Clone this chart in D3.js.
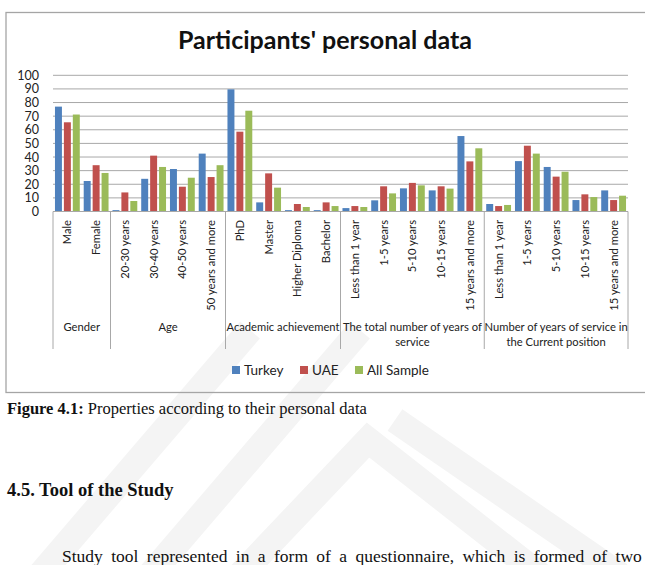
<!DOCTYPE html>
<html>
<head>
<meta charset="utf-8">
<script src="https://cdn.jsdelivr.net/npm/d3@7"></script>
<style>
  body { margin: 0; background: #fff; }
</style>
</head>
<body>
<div id="chart"></div>
<script>
// Chart data
const categories = [
    "Male", "Female",
    "20-30 years", "30-40 years", "40-50 years", "50 years and more",
    "PhD", "Master", "Higher Diploma", "Bachelor",
    "Less than 1 year", "1-5 years", "5-10 years", "10-15 years", "15 years and more",
    "Less than 1 year", "1-5 years", "5-10 years", "10-15 years", "15 years and more"
];
const groupNames = [
    ["Gender"],
    ["Age"],
    ["Academic achievement"],
    ["The total number of years of", "service"],
    ["Number of years of service in", "the Current position"]
];
const groupSizes = [2, 4, 4, 5, 5];
const seriesNames = ["Turkey", "UAE", "All Sample"];
const turkey    = [77, 22.4, 1, 24, 31.2, 42.5, 89.7, 6.7, 1, 1, 2.5, 8.2, 17, 15.5, 55.4, 5.5, 37, 32.7, 8.4, 15.5];
const uae       = [65.5, 34, 14, 41, 18.2, 25.3, 58.6, 28, 5.5, 6.7, 4, 18.5, 21, 18.5, 36.8, 4, 48.3, 25.6, 12.6, 8.4];
const allSample = [71.2, 28.3, 7.7, 32.7, 24.8, 34, 74, 17.5, 3.3, 4, 3.3, 13.3, 19.2, 16.8, 46.4, 4.8, 42.5, 29.2, 10.6, 11.6];
const yTicks = [0, 10, 20, 30, 40, 50, 60, 70, 80, 90, 100];

const seriesValues = [turkey, uae, allSample];
const colors = ["#4F81BD", "#C0504D", "#9BBB59"];
const sans = "Lato, 'Open Sans', sans-serif";
const serif = "'Liberation Serif', 'Times New Roman', serif";

const svg = d3.select("#chart")
    .append("svg")
    .attr("width", 645)
    .attr("height", 565);

// Watermark in the background (faint stripes)
const wm = svg.append("g")
    .attr("stroke", "#f4f4f4")
    .attr("stroke-width", 26)
    .attr("fill", "none");
wm.append("path").attr("d", "M40,575 L250,330");
wm.append("path").attr("d", "M150,575 L360,330");
wm.append("path").attr("d", "M240,575 L368,440 L540,575");
wm.append("path").attr("d", "M395,420 L620,575");

// Chart frame
svg.append("rect")
    .attr("x", 6)
    .attr("y", 12.5)
    .attr("width", 660)
    .attr("height", 380)
    .attr("fill", "none")
    .attr("stroke", "#a5a5a5")
    .attr("stroke-width", 1.3);

// Plot area
const plotLeft = 53, plotRight = 628, plotTop = 75.3, plotBottom = 211.5;

const x0 = d3.scaleBand()
    .domain(d3.range(categories.length))
    .range([plotLeft, plotRight]);

const x1 = d3.scaleBand()
    .domain(d3.range(seriesNames.length))
    .range([0, x0.bandwidth()])
    .paddingInner(0.22)
    .paddingOuter(0.22);

const y = d3.scaleLinear()
    .domain([0, 100])
    .range([plotBottom, plotTop]);

// Gridlines
svg.append("g")
    .selectAll("line")
    .data(yTicks)
    .join("line")
    .attr("x1", plotLeft)
    .attr("x2", plotRight)
    .attr("y1", d => y(d))
    .attr("y2", d => y(d))
    .attr("stroke", "#a8a8a8")
    .attr("stroke-width", 1);

// Y axis labels
const yAxis = svg.append("g")
    .attr("transform", `translate(${plotLeft},0)`)
    .call(d3.axisLeft(y).tickValues(yTicks).tickSize(0).tickPadding(14));
yAxis.select(".domain").remove();
yAxis.selectAll("text")
    .attr("font-family", sans)
    .attr("font-size", 12.5)
    .attr("fill", "#222");

// Bars
const barGroups = svg.append("g")
    .selectAll("g")
    .data(categories.map((c, i) => i))
    .join("g")
    .attr("transform", i => `translate(${x0(i)},0)`);

barGroups.selectAll("rect")
    .data(i => seriesValues.map((s, k) => ({ k: k, v: s[i] })))
    .join("rect")
    .attr("x", d => x1(d.k))
    .attr("y", d => y(d.v))
    .attr("width", x1.bandwidth())
    .attr("height", d => y(0) - y(d.v))
    .attr("fill", d => colors[d.k]);

// Category labels (rotated)
svg.append("g")
    .selectAll("text")
    .data(categories)
    .join("text")
    .attr("transform", (d, i) => `translate(${x0(i) + x0.bandwidth() / 2 + 4},220) rotate(-90)`)
    .attr("text-anchor", "end")
    .attr("font-family", sans)
    .attr("font-size", 11.2)
    .attr("fill", "#222")
    .text(d => d);

// Group dividers and labels
let start = 0;
const bounds = [0];
groupSizes.forEach(n => { start += n; bounds.push(start); });
const boundX = b => b < categories.length ? x0(b) : plotRight;

svg.append("g")
    .selectAll("line")
    .data(bounds)
    .join("line")
    .attr("x1", boundX)
    .attr("x2", boundX)
    .attr("y1", plotBottom)
    .attr("y2", 349)
    .attr("stroke", "#a8a8a8")
    .attr("stroke-width", 1);

// Axis line
svg.append("line")
    .attr("x1", plotLeft)
    .attr("x2", plotRight)
    .attr("y1", plotBottom)
    .attr("y2", plotBottom)
    .attr("stroke", "#a8a8a8");

groupNames.forEach((lines, g) => {
    const cx = (boundX(bounds[g]) + boundX(bounds[g + 1])) / 2;
    svg.append("text")
        .attr("x", cx)
        .attr("y", 331)
        .attr("text-anchor", "middle")
        .attr("font-family", sans)
        .attr("font-size", 11.2)
        .attr("fill", "#222")
        .selectAll("tspan")
        .data(lines)
        .join("tspan")
        .attr("x", cx)
        .attr("dy", (d, j) => j === 0 ? 0 : 15)
        .text(d => d);
});

// Title
svg.append("text")
    .attr("x", 325)
    .attr("y", 49)
    .attr("text-anchor", "middle")
    .attr("font-family", sans)
    .attr("font-weight", "bold")
    .attr("font-size", 25)
    .attr("fill", "#111")
    .text("Participants' personal data");

// Legend
const legendX = [232, 300, 355];
const legend = svg.append("g")
    .selectAll("g")
    .data(seriesNames)
    .join("g")
    .attr("transform", (d, i) => `translate(${legendX[i]},366)`);
legend.append("rect")
    .attr("width", 8)
    .attr("height", 8)
    .attr("fill", (d, i) => colors[i]);
legend.append("text")
    .attr("x", 12)
    .attr("y", 9)
    .attr("font-family", sans)
    .attr("font-size", 13.5)
    .attr("fill", "#222")
    .text(d => d);

// Caption and text below the chart
const caption = svg.append("text")
    .attr("x", 7)
    .attr("y", 414)
    .attr("font-family", serif)
    .attr("font-size", 16.5)
    .attr("fill", "#111");
caption.append("tspan").attr("font-weight", "bold").text("Figure 4.1:");
caption.append("tspan").text(" Properties according to their personal data");

svg.append("text")
    .attr("x", 7)
    .attr("y", 496)
    .attr("font-family", serif)
    .attr("font-weight", "bold")
    .attr("font-size", 18.5)
    .attr("fill", "#111")
    .text("4.5. Tool of the Study");

// Justified body line (wider word spacing)
svg.append("text")
    .attr("x", 62)
    .attr("y", 562)
    .attr("font-family", serif)
    .attr("font-size", 17.5)
    .attr("fill", "#111")
    .attr("word-spacing", 4)
    .text("Study tool represented in a form of a questionnaire, which is formed of two");
</script>
</body>
</html>
